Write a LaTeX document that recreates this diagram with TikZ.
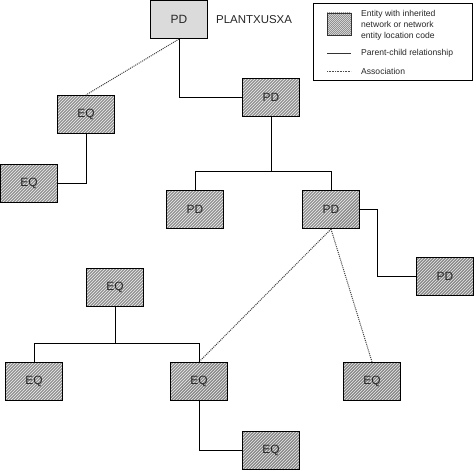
\documentclass[tikz,border=0pt]{standalone}
\usepackage{fontspec}
\setmainfont{Liberation Sans}
\begin{document}
\begin{tikzpicture}[x=1bp,y=-1bp,
  box/.style={draw=black, line width=1.1bp, minimum width=57bp, minimum height=38bp, inner sep=0pt,
    font=\fontsize{12}{14}\selectfont, text=black!85},
  hatchfill/.style={fill=gray!22, path picture={
      \foreach \i in {-51,-48,...,51}
        \draw[line width=1.05bp, draw=black!50]
          ([xshift=\i bp-40bp, yshift=-40bp]path picture bounding box.center) -- ++(80bp,80bp);}},
  hbox/.style={box, hatchfill},
  pbox/.style={box, fill=gray!28},
  link/.style={line width=1bp},
  assoc/.style={line width=1bp, dash pattern=on 1bp off 1bp, draw=black!75},
  legtext/.style={font=\fontsize{8.6}{11}\selectfont, text=black!85, anchor=west, inner sep=0pt}]
\useasboundingbox (0,0) rectangle (474,470);
% nodes
\node[pbox] (top) at (179,19.5) {PD};
\node[anchor=west, inner sep=0pt, font=\fontsize{11.5}{13}\selectfont, text=black!85] (lbl) at (216,19.5) {PLANTXUSXA};
\node[hbox] (pd2) at (271,97.5) {PD};
\node[hbox] (eq1) at (86,114.5) {EQ};
\node[hbox] (eq2) at (29,183.5) {EQ};
\node[hbox] (pd3) at (195,209.5) {PD};
\node[hbox] (pd4) at (331,209.5) {PD};
\node[hbox] (pd5) at (445,276.5) {PD};
\node[hbox] (eqt) at (115,287.5) {EQ};
\node[hbox] (eqbl) at (34,381.5) {EQ};
\node[hbox] (eqm) at (199,381.5) {EQ};
\node[hbox] (eqr) at (372,381.5) {EQ};
\node[hbox] (eqbr) at (271,450.5) {EQ};
\coordinate (bus1) at (0,172);
\coordinate (bus2) at (0,343);
\coordinate (k) at (377,0);
% connectors
\draw[link] (top.south) |- (pd2.west);
\draw[assoc] (top.south) -- (eq1.north);
\draw[link] (eq1.south) |- (eq2.east);
\draw[link] (pd2.south) -- (pd2.south |- bus1);
\draw[link] (pd3.north) |- (bus1 -| pd4.north) -- (pd4.north);
\draw[link] (pd4.east) -| (k |- pd5.west) -- (pd5.west);
\draw[assoc] (pd4.south) -- (eqm.north);
\draw[assoc] (pd4.south) -- (eqr.north);
\draw[link] (eqt.south) -- (eqt.south |- bus2);
\draw[link] (eqbl.north) |- (bus2 -| eqm.north) -- (eqm.north);
\draw[link] (eqm.south) |- (eqbr.west);
% legend
\node[draw=black, line width=1bp, minimum width=159bp, minimum height=77bp, inner sep=0pt] (leg) at (392.5,42.5) {};
\node[draw=black!80, line width=0.8bp, fill=gray!22, path picture={
      \foreach \i in {-27,-25,...,27}
        \draw[line width=0.7bp, draw=black!50]
          ([xshift=\i bp-20bp, yshift=-20bp]path picture bounding box.center) -- ++(40bp,40bp);},
    minimum width=24bp, minimum height=22bp, inner sep=0pt] (legbox) at (339,24) {};
\node[legtext, align=left] (t1) at (361,25) {Entity with inherited\\network or network\\entity location code};
\coordinate (s1) at (327,53);
\coordinate (s2) at (351,53);
\coordinate (d1) at (327,71);
\coordinate (d2) at (351,71);
\draw[line width=0.8bp, draw=black!80] (s1) -- (s2);
\draw[line width=0.8bp, draw=black!70, dash pattern=on 0.8bp off 0.8bp] (d1) -- (d2);
\node[legtext] (t2) at (361,53) {Parent-child relationship};
\node[legtext] (t3) at (361,71) {Association};
\end{tikzpicture}
\end{document}
